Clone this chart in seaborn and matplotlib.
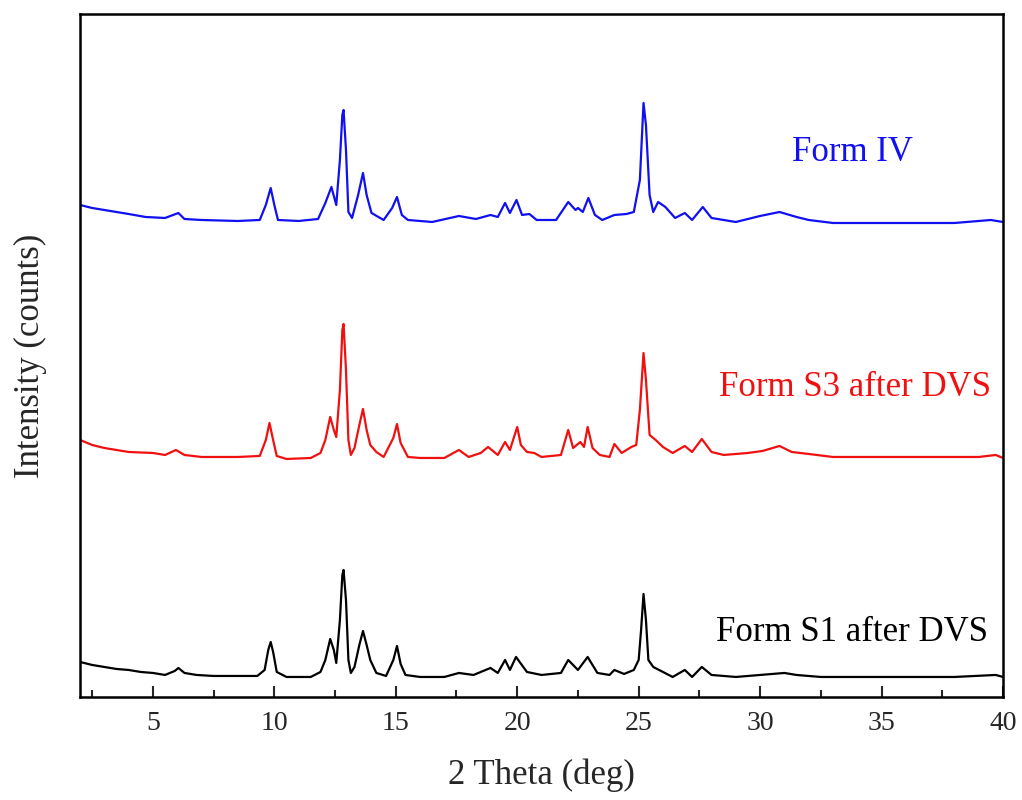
import numpy as np
import pandas as pd
import matplotlib
matplotlib.use('Agg')
import matplotlib.pyplot as plt
from matplotlib.ticker import MultipleLocator
import seaborn as sns

# 2-theta positions and intensities (a.u.) for each pattern
s1_theta = [2.0, 2.5, 3.0, 3.5, 4.0, 4.5, 5.0, 5.5, 5.9, 6.05, 6.3, 6.8, 7.5, 8.5, 9.3, 9.6, 9.75, 9.85,
            9.95, 10.1, 10.5, 11.5, 11.9, 12.1, 12.3, 12.45, 12.55, 12.7, 12.8, 12.85, 12.95, 13.05, 13.15,
            13.3, 13.5, 13.65, 13.8, 13.95, 14.2, 14.6, 14.9, 15.05, 15.2, 15.4, 16.0, 17.0, 17.6, 18.2,
            18.9, 19.2, 19.5, 19.7, 19.95, 20.1, 20.4, 21.0, 21.8, 22.1, 22.5, 22.9, 23.3, 23.8, 24.0, 24.4,
            24.8, 25.0, 25.1, 25.2, 25.3, 25.4, 25.6, 26.0, 26.4, 26.9, 27.2, 27.6, 28.0, 29.0, 30.0, 31.0,
            31.5, 32.5, 34.0, 36.0, 38.0, 39.7, 40.0]
s1_int = [35, 32, 30, 28, 27, 25, 24, 22, 26, 29, 24, 22, 21, 21, 21, 27, 47, 55,
          45, 25, 20, 20, 25, 37, 58, 47, 34, 77, 122, 127, 97, 37, 24,
          30, 52, 66, 52, 37, 24, 21, 37, 51, 33, 22, 20, 20, 24, 22,
          29, 24, 37, 27, 40, 35, 25, 22, 24, 37, 27, 40, 24, 22, 27, 23,
          27, 37, 67, 103, 77, 37, 30, 25, 20, 27, 20, 30, 22, 20, 22, 24,
          22, 20, 20, 20, 20, 22, 20]

s3_theta = [2.0, 2.5, 3.0, 4.0, 5.0, 5.5, 5.95, 6.3, 7.0, 8.5, 9.4, 9.65, 9.8, 9.95, 10.1, 10.5, 11.5,
            11.9, 12.1, 12.3, 12.45, 12.55, 12.7, 12.8, 12.85, 12.95, 13.05, 13.15, 13.3, 13.5, 13.65,
            13.8, 13.95, 14.2, 14.5, 14.9, 15.05, 15.2, 15.5, 16.0, 17.0, 17.6, 18.0, 18.5, 18.8, 19.2,
            19.5, 19.7, 20.0, 20.15, 20.4, 20.7, 21.0, 21.8, 22.1, 22.3, 22.6, 22.75, 22.9, 23.1, 23.4,
            23.8, 24.0, 24.3, 24.7, 24.9, 25.05, 25.2, 25.3, 25.45, 25.7, 26.0, 26.4, 26.9, 27.2, 27.6,
            28.0, 28.5, 29.5, 30.1, 30.8, 31.3, 32.0, 33.0, 35.0, 37.0, 39.0, 39.7, 40.0]
s3_int = [37, 32, 29, 25, 24, 22, 27, 22, 20, 20, 21, 37, 54, 37, 21, 18, 19,
          24, 37, 60, 47, 40, 87, 147, 153, 107, 37, 22, 29, 52, 68,
          47, 32, 25, 20, 39, 53, 34, 20, 19, 19, 27, 20, 24, 30, 22,
          35, 27, 50, 32, 25, 24, 20, 22, 47, 29, 35, 30, 50, 29, 22,
          20, 33, 24, 30, 32, 67, 124, 97, 42, 37, 30, 24, 31, 25, 38,
          25, 22, 24, 26, 31, 25, 23, 20, 20, 20, 20, 22, 19]

iv_theta = [2.0, 2.5, 3.0, 3.5, 4.0, 4.7, 5.5, 6.05, 6.3, 7.0, 8.5, 9.4, 9.65, 9.85, 10.0, 10.15, 11.0,
            11.8, 12.1, 12.35, 12.55, 12.7, 12.8, 12.85, 12.95, 13.05, 13.2, 13.45, 13.65, 13.8, 14.0,
            14.5, 14.85, 15.05, 15.25, 15.5, 16.5, 17.6, 18.3, 18.9, 19.2, 19.5, 19.7, 19.97, 20.2, 20.5,
            20.8, 21.6, 22.1, 22.4, 22.5, 22.7, 22.93, 23.2, 23.5, 24.0, 24.5, 24.8, 25.05, 25.2, 25.3,
            25.45, 25.6, 25.8, 26.1, 26.5, 26.9, 27.2, 27.64, 28.0, 29.0, 30.0, 30.8, 31.5, 32.0, 33.0,
            35.0, 38.0, 39.5, 40.0]
iv_int = [35, 32, 30, 28, 26, 23, 22, 27, 21, 20, 19, 20, 35, 52, 35, 20, 19,
          21, 37, 53, 35, 80, 125, 130, 90, 28, 22, 45, 67, 45, 27,
          20, 32, 43, 25, 20, 18, 24, 21, 25, 23, 37, 27, 40, 25, 26,
          20, 20, 38, 30, 32, 28, 42, 25, 20, 25, 26, 28, 60, 137, 115,
          45, 28, 38, 33, 22, 27, 20, 33, 22, 18, 24, 28, 23, 20, 17,
          17, 17, 20, 18]

labels = ['Form S1 after DVS', 'Form S3 after DVS', 'Form IV']
offsets = [0, 220, 457]
colors = ['black', '#f01010', '#1010f0']

frames = []
for lab, th, inten, off in zip(labels, [s1_theta, s3_theta, iv_theta], [s1_int, s3_int, iv_int], offsets):
    frames.append(pd.DataFrame({'theta': th, 'intensity': np.array(inten) + off, 'sample': lab}))
df = pd.concat(frames, ignore_index=True)

sns.set_style('ticks')
plt.rcParams['font.family'] = ['Liberation Serif', 'DejaVu Serif']

fig = plt.figure(figsize=(10.22, 8), dpi=100)
ax = fig.add_axes([0.0783, 0.1288, 0.9031, 0.8537])

sns.lineplot(data=df, x='theta', y='intensity', hue='sample', palette=dict(zip(labels, colors)),
             hue_order=labels, linewidth=1.6, legend=False, sort=True, estimator=None, ax=ax)

ax.set_xlim(2, 40)
ax.set_ylim(0, 683)
ax.xaxis.set_major_locator(MultipleLocator(5))
ax.xaxis.set_minor_locator(MultipleLocator(2.5))
ax.set_xticks([5, 10, 15, 20, 25, 30, 35, 40])
ax.set_yticks([])
ax.tick_params(axis='x', which='major', direction='in', length=8, width=1.5, labelsize=20, pad=10, top=False)
ax.tick_params(axis='x', which='minor', direction='in', length=5, width=1.5, top=False)
for sp in ax.spines.values():
    sp.set_linewidth(1.8)
    sp.set_color('black')

ax.set_xlabel('2 Theta (deg)', fontsize=25, labelpad=16)
ax.set_ylabel('Intensity (counts)', fontsize=25, labelpad=24)

label_pos = [(33.8, 544), (33.9, 309), (33.8, 64)]
for lab, col, (lx, ly) in zip(labels[::-1], colors[::-1], label_pos):
    ax.text(lx, ly, lab, color=col, fontsize=25, ha='center', va='center')

fig.savefig('out.png', dpi=100)
